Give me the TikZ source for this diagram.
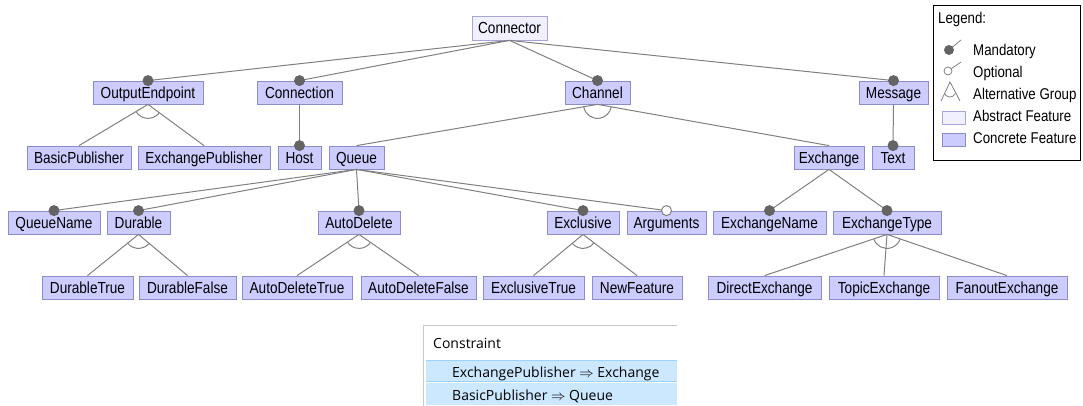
\documentclass[tikz,border=0pt]{standalone}
\usepackage{fontspec}
\setmainfont{Liberation Sans}[FakeStretch=0.85]
\newfontfamily\tablefont{Open Sans}
\usetikzlibrary{calc}
\definecolor{concfill}{RGB}{204,204,255}
\definecolor{concdraw}{RGB}{140,140,200}
\definecolor{absfill}{RGB}{240,240,255}
\definecolor{absdraw}{RGB}{165,165,215}
\definecolor{edgegray}{RGB}{128,128,128}
\definecolor{mandgray}{RGB}{100,100,100}
\definecolor{rowblue}{RGB}{204,232,255}
\definecolor{rowline}{RGB}{153,209,255}
\definecolor{tablegray}{RGB}{200,200,200}
\tikzset{
  feat/.style={draw=concdraw, fill=concfill, line width=0.8pt, minimum height=23pt, inner sep=0pt, text height=12.5pt, text depth=1pt, font=\fontsize{16}{18}\selectfont},
  absfeat/.style={feat, draw=absdraw, fill=absfill},
  edge/.style={draw=edgegray, line width=1pt},
  mand/.style={fill=mandgray},
  opt/.style={draw=edgegray, fill=white, line width=1pt},
  lbl/.style={anchor=base west, inner sep=0pt, font=\fontsize{15.6}{18}\selectfont},
  ctext/.style={anchor=base west, inner sep=0pt, font=\tablefont\fontsize{14}{17}\selectfont},
}
\newcommand\mandedge[2]{\draw[edge] (#1.south) -- (#2.north); \fill[mand] (#2.north) circle (5.5pt);}
\newcommand\optedge[2]{\draw[edge] (#1.south) -- (#2.north); \filldraw[opt] (#2.north) circle (5pt);}
\newcommand\plainedge[2]{\draw[edge] (#1.south) -- (#2.north);}
\newcommand\altarc[3]{\draw[edge] let \p1=($(#2.north)-(#1.south)$), \p2=($(#3.north)-(#1.south)$), \n1={atan2(\y1,\x1)}, \n2={atan2(\y2,\x2)} in ($(#1.south)+(\n1:14pt)$) arc[start angle=\n1, end angle=\n2, radius=14pt];}
\begin{document}
\begin{tikzpicture}[x=1pt,y=-1pt]
\useasboundingbox (0,0) rectangle (1083,406);
% nodes
\node[absfeat, minimum width=75pt, minimum height=24pt] (connector) at (509.5,28) {Connector};
\node[feat, minimum width=110pt] (outend) at (148,92.5) {OutputEndpoint};
\node[feat, minimum width=85pt] (connection) at (299.5,92.5) {Connection};
\node[feat, minimum width=65pt] (channel) at (597.5,92.5) {Channel};
\node[feat, minimum width=69pt] (message) at (893.5,92.5) {Message};
\node[feat, minimum width=104pt] (basicpub) at (79,157.5) {BasicPublisher};
\node[feat, minimum width=132pt] (exchpub) at (204,157.5) {ExchangePublisher};
\node[feat, minimum width=43pt] (host) at (299.5,157.5) {Host};
\node[feat, minimum width=55pt] (queue) at (356.5,157.5) {Queue};
\node[feat, minimum width=70pt] (exchange) at (829,157.5) {Exchange};
\node[feat, minimum width=42pt] (text) at (893,157.5) {Text};
\node[feat, minimum width=92pt] (queuename) at (54,222.5) {QueueName};
\node[feat, minimum width=63pt] (durable) at (138.5,222.5) {Durable};
\node[feat, minimum width=82pt] (autodelete) at (359,222.5) {AutoDelete};
\node[feat, minimum width=72pt] (exclusive) at (583,222.5) {Exclusive};
\node[feat, minimum width=79pt] (arguments) at (666.5,222.5) {Arguments};
\node[feat, minimum width=113pt] (exchname) at (769.5,222.5) {ExchangeName};
\node[feat, minimum width=108pt] (exchtype) at (887,222.5) {ExchangeType};
\node[feat, minimum width=91pt] (durtrue) at (87.5,287.5) {DurableTrue};
\node[feat, minimum width=97pt] (durfalse) at (187.5,287.5) {DurableFalse};
\node[feat, minimum width=110pt] (adtrue) at (297,287.5) {AutoDeleteTrue};
\node[feat, minimum width=115pt] (adfalse) at (418.5,287.5) {AutoDeleteFalse};
\node[feat, minimum width=101pt] (extrue) at (533.5,287.5) {ExclusiveTrue};
\node[feat, minimum width=90pt] (newfeat) at (637,287.5) {NewFeature};
\node[feat, minimum width=113pt] (direct) at (764.5,287.5) {DirectExchange};
\node[feat, minimum width=110pt] (topic) at (884,287.5) {TopicExchange};
\node[feat, minimum width=120pt] (fanout) at (1007,287.5) {FanoutExchange};
% edges
\mandedge{connector}{outend}
\mandedge{connector}{connection}
\mandedge{connector}{channel}
\mandedge{connector}{message}
\plainedge{outend}{basicpub}
\plainedge{outend}{exchpub}
\altarc{outend}{basicpub}{exchpub}
\mandedge{connection}{host}
\plainedge{channel}{queue}
\plainedge{channel}{exchange}
\altarc{channel}{queue}{exchange}
\mandedge{message}{text}
\mandedge{queue}{queuename}
\mandedge{queue}{durable}
\mandedge{queue}{autodelete}
\mandedge{queue}{exclusive}
\optedge{queue}{arguments}
\mandedge{exchange}{exchname}
\mandedge{exchange}{exchtype}
\plainedge{durable}{durtrue}
\plainedge{durable}{durfalse}
\altarc{durable}{durtrue}{durfalse}
\plainedge{autodelete}{adtrue}
\plainedge{autodelete}{adfalse}
\altarc{autodelete}{adtrue}{adfalse}
\plainedge{exclusive}{extrue}
\plainedge{exclusive}{newfeat}
\altarc{exclusive}{extrue}{newfeat}
\plainedge{exchtype}{direct}
\plainedge{exchtype}{topic}
\plainedge{exchtype}{fanout}
\altarc{exchtype}{direct}{fanout}
% legend
\draw[line width=0.8pt] (933,5) rectangle (1080,160);
\node[lbl] (legtitle) at (938,24) {Legend:};
\draw[edgegray, line width=0.8pt] (949,50) -- (961,40);
\fill[mand] (949,50) circle (5pt);
\node[lbl] (legmand) at (973,55.5) {Mandatory};
\draw[edgegray, line width=0.8pt] (948,71) -- (961,62);
\filldraw[draw=edgegray, fill=white, line width=0.8pt] (948,71) circle (4pt);
\node[lbl] (legopt) at (973,77.5) {Optional};
\draw[edgegray, line width=0.8pt] (941,101) -- (950,82) -- (960,101);
\draw[edgegray, line width=0.8pt] (944.5,93.5) arc[start angle=-155, end angle=-25, radius=6pt];
\node[lbl] (legalt) at (973,99.5) {Alternative Group};
\draw[absdraw, fill=absfill, line width=0.8pt] (942,111) rectangle (965,124);
\node[lbl] (legabs) at (973,121.5) {Abstract Feature};
\draw[concdraw, fill=concfill, line width=0.8pt] (942,133) rectangle (965,146);
\node[lbl] (legconc) at (973,143.5) {Concrete Feature};
% constraint table
\draw[tablegray, line width=1pt] (423,406) -- (423,325) -- (677,325);
\node[ctext] (chead) at (433,348) {Constraint};
\fill[rowblue] (426,360) rectangle (677,382);
\draw[rowline, line width=0.6pt] (426,360.3) -- (677,360.3) (426,381.7) -- (677,381.7);
\fill[rowblue] (426,383) rectangle (677,405);
\node[ctext] (c1) at (452,377) {ExchangePublisher $\Rightarrow$ Exchange};
\node[ctext] (c2) at (452,400) {BasicPublisher $\Rightarrow$ Queue};
\end{tikzpicture}
\end{document}
